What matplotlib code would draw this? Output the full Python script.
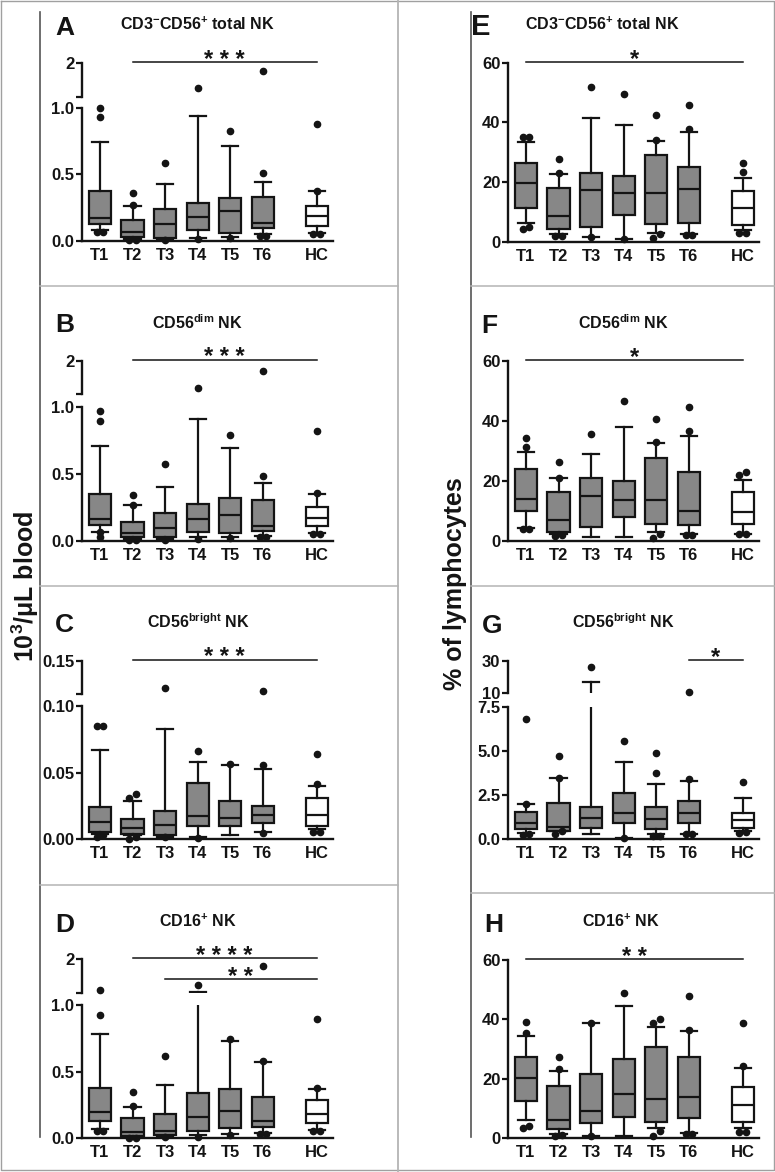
import numpy as np
import matplotlib
matplotlib.use('Agg')
import matplotlib.pyplot as plt
from matplotlib.lines import Line2D
from matplotlib.transforms import blended_transform_factory

plt.rcParams['font.family'] = ['Liberation Sans', 'DejaVu Sans']
plt.rcParams['font.weight'] = 'bold'
plt.rcParams['mathtext.fontset'] = 'custom'
plt.rcParams['mathtext.rm'] = 'Liberation Sans:bold'
plt.rcParams['mathtext.it'] = 'Liberation Sans:bold'
plt.rcParams['mathtext.bf'] = 'Liberation Sans:bold'
plt.rcParams['mathtext.default'] = 'rm'

groups = ['T1', 'T2', 'T3', 'T4', 'T5', 'T6', 'HC']

# box stats: whisker low, q1, median, q3, whisker high, points
A_lo = [0.08, 0.013, 0.01, 0.023, 0.025, 0.048, 0.06]
A_q1 = [0.126, 0.025, 0.023, 0.081, 0.055, 0.093, 0.111]
A_med = [0.169, 0.063, 0.126, 0.181, 0.224, 0.136, 0.186]
A_q3 = [0.378, 0.156, 0.237, 0.287, 0.320, 0.327, 0.259]
A_hi = [0.743, 0.264, 0.426, 0.942, 0.718, 0.441, 0.375]
A_out = [[1.0, 0.937, 0.063, 0.063], [0.357, 0.27, 0.005, 0.005], [0.589, 0.005],
         [1.27, 0.01], [0.829, 0.018], [0.509, 1.78, 0.038, 0.038], [0.879, 0.378, 0.048, 0.048]]

B_lo = [0.068, 0.012, 0.012, 0.025, 0.025, 0.0375, 0.055]
B_q1 = [0.118, 0.03, 0.03, 0.0675, 0.055, 0.075, 0.1125]
B_med = [0.16, 0.055, 0.0925, 0.16, 0.1925, 0.1125, 0.1675]
B_q3 = [0.348, 0.143, 0.205, 0.2725, 0.3175, 0.305, 0.25]
B_hi = [0.713, 0.268, 0.405, 0.91, 0.6925, 0.43, 0.35]
B_out = [[0.9725, 0.90, 0.068, 0.025], [0.343, 0.27, 0.003, 0.003], [0.575, 0.005],
         [1.18, 0.012], [0.7925, 0.018], [0.4875, 1.70, 0.03, 0.03], [0.825, 0.355, 0.05, 0.05]]

C_lo = [0.004, 0.003, 0.002, 0.0015, 0.003, 0.0055, 0.008]
C_q1 = [0.00525, 0.004, 0.00325, 0.01025, 0.01025, 0.0125, 0.01025]
C_med = [0.01275, 0.00825, 0.01075, 0.0175, 0.01625, 0.01825, 0.01825]
C_q3 = [0.024, 0.015, 0.02125, 0.0425, 0.02875, 0.025, 0.03125]
C_hi = [0.067, 0.029, 0.0825, 0.0578, 0.0555, 0.0527, 0.04]
C_out = [[0.085, 0.085, 0.003, 0.002], [0.034, 0.031, 0.0005, 0.002], [0.1085, 0.0015],
         [0.0665, 0.001], [0.0565], [0.056, 0.1045, 0.005], [0.0415, 0.064, 0.0052, 0.0052]]

D_lo = [0.0675, 0.008, 0.0175, 0.025, 0.0325, 0.0375, 0.065]
D_q1 = [0.1325, 0.0175, 0.025, 0.0575, 0.075, 0.0875, 0.1125]
D_med = [0.2, 0.05, 0.0575, 0.1625, 0.2075, 0.13, 0.18]
D_q3 = [0.375, 0.15, 0.18, 0.3425, 0.37, 0.3125, 0.2875]
D_hi = [0.78, 0.2375, 0.4, 1.05, 0.73, 0.575, 0.37]
D_out = [[0.925, 1.10, 0.058, 0.058], [0.35, 0.24, 0.004, 0.004], [0.62, 0.0075],
         [1.245, 0.0075], [0.745, 0.025], [0.578, 1.81, 0.0325, 0.0325], [0.378, 0.8925, 0.055, 0.055]]

E_lo = [6.4, 2.5, 1.7, 0.9, 3.0, 2.6, 3.9]
E_q1 = [11.4, 4.1, 5.0, 8.9, 6.1, 6.4, 5.6]
E_med = [19.8, 8.6, 17.3, 16.4, 16.2, 17.7, 11.2]
E_q3 = [26.5, 17.9, 23.1, 22.0, 29.1, 25.1, 17.1]
E_hi = [33.3, 22.7, 41.3, 39.1, 33.9, 36.9, 21.2]
E_out = [[35.2, 35.2, 4.1, 5.0], [27.7, 22.9, 1.8, 2.0], [51.7, 1.6], [49.4, 0.8],
         [34.0, 42.5, 2.5, 1.3], [37.8, 45.8, 2.4, 2.4], [23.2, 26.3, 2.8, 2.8]]

F_lo = [4.3, 2.2, 1.1, 1.1, 2.8, 2.1, 2.4]
F_q1 = [10.0, 3.0, 4.7, 7.8, 5.6, 5.2, 5.6]
F_med = [13.9, 6.9, 14.9, 13.6, 13.6, 9.9, 9.7]
F_q3 = [23.8, 16.4, 21.0, 19.9, 27.7, 22.8, 16.4]
F_hi = [29.7, 20.8, 28.8, 38.1, 32.7, 35.1, 20.3]
F_out = [[31.2, 34.2, 3.8, 3.8], [21.0, 26.4, 1.9, 1.6], [35.5], [46.7],
         [33.0, 40.5, 2.4, 0.8], [36.6, 44.8, 1.9, 1.9], [22.8, 22.0, 2.1, 2.1]]

G_lo = [0.38, 0.47, 0.3, 0.1, 0.28, 0.3, 0.45]
G_q1 = [0.57, 0.49, 0.66, 0.91, 0.59, 0.95, 0.63]
G_med = [0.91, 0.72, 1.19, 1.48, 1.16, 1.48, 1.1]
G_q3 = [1.57, 2.08, 1.82, 2.65, 1.82, 2.2, 1.52]
G_hi = [1.99, 3.47, 16.7, 4.375, 3.125, 3.31, 2.33]
G_out = [[2.0, 6.82, 0.3, 0.25], [3.5, 4.75, 0.3, 0.45], [26.3], [5.59, 0.06],
         [3.75, 4.92, 0.17, 0.17], [3.4, 10.5, 0.28, 0.28], [3.28, 0.4, 0.35]]

H_lo = [6.0, 1.5, 0.9, 0.8, 3.4, 1.7, 3.4]
H_q1 = [12.7, 3.1, 5.1, 7.3, 5.6, 6.7, 5.4]
H_med = [20.4, 6.2, 9.3, 14.9, 13.1, 14.0, 11.2]
H_q3 = [27.5, 17.6, 21.7, 26.7, 30.6, 27.5, 17.1]
H_hi = [34.3, 22.8, 38.8, 44.4, 37.6, 36.2, 23.8]
H_out = [[35.6, 39.1, 3.6, 4.2], [23.2, 27.2, 0.9, 1.1], [38.9, 0.8], [48.9],
         [38.8, 40.1, 2.5, 0.8], [36.5, 48.0, 1.3, 1.3], [24.2, 38.8, 2.0, 2.0]]

ticks_abs = [0, 0.5, 1.0]
ticks_abs_lab = ['0.0', '0.5', '1.0']
ticks_bright = [0, 0.05, 0.10]
ticks_bright_lab = ['0.00', '0.05', '0.10']
ticks_pct = [0, 20, 40, 60]
ticks_pct_lab = ['0', '20', '40', '60']
ticks_g = [0, 2.5, 5.0, 7.5]
ticks_g_lab = ['0.0', '2.5', '5.0', '7.5']

W, H = 775, 1172
pos = np.r_[np.arange(1, 7), 7.65]
fills = ['#878787'] * 6 + ['white']
ink = '#141414'
LW = 1.6

# layout in pixels: lower axes (top, bottom), upper break segment (top, bottom)
panels = [
    dict(L='A', t='CD3$^{-}$CD56$^{+}$ total NK', d=(A_lo, A_q1, A_med, A_q3, A_hi), o=A_out, x=82,
         lo=(108.3, 240.7), lim=(0, 1.0), tk=(ticks_abs, ticks_abs_lab), hi=(63.3, 96.7), hlim=(1, 2), hlab=['', '2'],
         sig=[(1, 6, '* * *', 0)], lxy=(55, 35), txy=(197.5, 30)),
    dict(L='B', t='CD56$^{dim}$ NK', d=(B_lo, B_q1, B_med, B_q3, B_hi), o=B_out, x=82,
         lo=(407.3, 540.7), lim=(0, 1.0), tk=(ticks_abs, ticks_abs_lab), hi=(361, 394.3), hlim=(1, 2), hlab=['', '2'],
         sig=[(1, 6, '* * *', 0)], lxy=(55, 331.7), txy=(197.5, 329)),
    dict(L='C', t='CD56$^{bright}$ NK', d=(C_lo, C_q1, C_med, C_q3, C_hi), o=C_out, x=82,
         lo=(706, 839.3), lim=(0, 0.10), tk=(ticks_bright, ticks_bright_lab), hi=(660.7, 694), hlim=(0.10, 0.15),
         hlab=['', '0.15'], sig=[(1, 6, '* * *', 0)], lxy=(55, 631.7), txy=(198, 628.3)),
    dict(L='D', t='CD16$^{+}$ NK', d=(D_lo, D_q1, D_med, D_q3, D_hi), o=D_out, x=82,
         lo=(1005, 1138.3), lim=(0, 1.0), tk=(ticks_abs, ticks_abs_lab), hi=(959.3, 993.3), hlim=(1, 2), hlab=['', '2'],
         sig=[(1, 6, '* * * *', 0), (2, 6, '* *', 1)], lxy=(55, 931.7), txy=(197.5, 926.7)),
    dict(L='E', t='CD3$^{-}$CD56$^{+}$ total NK', d=(E_lo, E_q1, E_med, E_q3, E_hi), o=E_out, x=508,
         lo=(62.7, 241.7), lim=(0, 60), tk=(ticks_pct, ticks_pct_lab), hi=None,
         sig=[(0, 6, '*', 0)], lxy=(471, 35), txy=(602, 30), lsize=21),
    dict(L='F', t='CD56$^{dim}$ NK', d=(F_lo, F_q1, F_med, F_q3, F_hi), o=F_out, x=508,
         lo=(361, 540.7), lim=(0, 60), tk=(ticks_pct, ticks_pct_lab), hi=None,
         sig=[(0, 6, '*', 0)], lxy=(481, 333.3), txy=(623, 329)),
    dict(L='G', t='CD56$^{bright}$ NK', d=(G_lo, G_q1, G_med, G_q3, G_hi), o=G_out, x=508,
         lo=(707.3, 839.3), lim=(0, 7.5), tk=(ticks_g, ticks_g_lab), hi=(660.7, 693.3), hlim=(10, 30),
         hlab=['10', '30'], sig=[(5, 6, '*', 0)], lxy=(482, 632.7), txy=(623, 628.3)),
    dict(L='H', t='CD16$^{+}$ NK', d=(H_lo, H_q1, H_med, H_q3, H_hi), o=H_out, x=508,
         lo=(960, 1138.3), lim=(0, 60), tk=(ticks_pct, ticks_pct_lab), hi=None,
         sig=[(0, 6, '* *', 0)], lxy=(484, 932.3), txy=(621, 926.7)),
]

fig = plt.figure(figsize=(W / 100, H / 100), dpi=100)


def px_ax(x0, x1, y0, y1):
    return fig.add_axes([x0 / W, 1 - y1 / H, (x1 - x0) / W, (y1 - y0) / H])


def fline(xs, ys, color, lw):
    fig.add_artist(Line2D([x / W for x in xs], [1 - y / H for y in ys], color=color, lw=lw))


def draw_boxes(ax, d):
    lo, q1, med, q3, hi = d
    stats = [dict(whislo=lo[i], q1=q1[i], med=med[i], q3=q3[i], whishi=hi[i]) for i in range(len(groups))]
    lp = dict(color=ink, linewidth=LW)
    b = ax.bxp(stats, positions=pos, widths=0.68, capwidths=0.5, showfliers=False, patch_artist=True,
               manage_ticks=False, boxprops=dict(edgecolor=ink, linewidth=LW),
               medianprops=lp, whiskerprops=lp, capprops=lp)
    for k, patch in enumerate(b['boxes']):
        patch.set_facecolor(fills[k])


def spread(vals, thr):
    vals = sorted(vals)
    clusters = []
    for v in vals:
        if clusters and v - clusters[-1][-1] < thr:
            clusters[-1].append(v)
        else:
            clusters.append([v])
    xs, ys = [], []
    for c in clusters:
        n = len(c)
        xs += list((np.arange(n) - (n - 1) / 2) * 0.2)
        ys += c
    return np.array(xs), np.array(ys)


def style_axis(ax, left_only=False):
    ax.patch.set_visible(False)
    ax.set_xlim(0.45, 8.15)
    for s in ['top', 'right']:
        ax.spines[s].set_visible(False)
    ax.spines['left'].set_linewidth(1.7)
    ax.spines['bottom'].set_linewidth(1.7)
    ax.spines['left'].set_color(ink)
    ax.spines['bottom'].set_color(ink)
    ax.tick_params(axis='y', direction='out', length=4.5, width=1.6, pad=1, labelsize=12, colors=ink)
    if left_only:
        ax.spines['bottom'].set_visible(False)
        ax.set_xticks([])
    else:
        ax.set_xticks(pos)
        ax.set_xticklabels(groups, fontweight='bold')
        ax.tick_params(axis='x', length=0, pad=5, labelsize=12, colors=ink)


for p in panels:
    x0 = p['x']
    x1 = x0 + 251
    ax = px_ax(x0, x1, *p['lo'])
    draw_boxes(ax, p['d'])
    ax.set_ylim(*p['lim'])
    ax.set_yticks(p['tk'][0])
    ax.set_yticklabels(p['tk'][1], fontweight='bold')
    style_axis(ax)
    axes = [(ax, p['lim'], p['lo'])]
    top_px = p['lo'][0]
    top_ax = ax
    if p['hi'] is not None:
        axh = px_ax(x0, x1, *p['hi'])
        draw_boxes(axh, p['d'])
        axh.set_ylim(*p['hlim'])
        axh.set_yticks(p['hlim'])
        axh.set_yticklabels(p['hlab'], fontweight='bold')
        style_axis(axh, left_only=True)
        axes.append((axh, p['hlim'], p['hi']))
        top_px = p['hi'][0]
        top_ax = axh

    # outlying points, placed in whichever segment holds them
    for i, vals in enumerate(p['o']):
        for a, lim, ext in axes:
            inside = [v for v in vals if lim[0] <= v <= lim[1] * 1.001]
            if a is not ax:
                inside = [v for v in vals if v > p['lim'][1] * 1.001]
            if not inside:
                continue
            thr = 5.5 / (ext[1] - ext[0]) * (lim[1] - lim[0])
            dx, ys = spread(inside, thr)
            a.plot(pos[i] + dx, ys, 'o', ms=4.5, color=ink, mec=ink, clip_on=False, zorder=5)

    # significance bars
    tr = blended_transform_factory(top_ax.transData, fig.transFigure)
    for i0, i1, stars, lvl in p['sig']:
        y = top_px - 1 + 21 * lvl
        top_ax.add_line(Line2D([pos[i0], pos[i1]], [1 - y / H] * 2, transform=tr, color=ink, lw=1.1, clip_on=False))
        top_ax.text((pos[i0] + pos[i1]) / 2, 1 - (y + 4.5) / H, stars, transform=tr, ha='center',
                    va='baseline', fontsize=17, fontweight='bold', color=ink)

    fig.text(p['lxy'][0] / W, 1 - p['lxy'][1] / H, p['L'], ha='left', va='baseline',
             fontsize=p.get('lsize', 19), fontweight='bold', color=ink)
    fig.text(p['txy'][0] / W, 1 - p['txy'][1] / H, p['t'], ha='center', va='baseline', fontsize=11.5,
             fontweight='bold', color=ink)

fig.text(25 / W, 1 - 586 / H, '10$^{3}$/\u03bcL blood', rotation=90, ha='center', va='center', fontsize=18,
         fontweight='bold', color=ink)
fig.text(455 / W, 1 - 584 / H, '% of lymphocytes', rotation=90, ha='center', va='center', fontsize=18,
         fontweight='bold', color=ink)

# frame lines of the panel grid
light = '#b4b4b4'
fline([1, 774, 774, 1, 1], [1, 1, 1170, 1170, 1], '#a0a0a0', 1.0)
fline([397.5, 397.5], [0, 1172], light, 1.3)
fline([40, 40], [12, 1137], '#555555', 1.2)
fline([471, 471], [12, 1137], '#555555', 1.2)
for y in [286, 586, 885]:
    fline([40, 397.5], [y, y], light, 1.1)
for y in [286, 586, 893]:
    fline([471, 775], [y, y], light, 1.1)

fig.savefig('out.png', dpi=100)
